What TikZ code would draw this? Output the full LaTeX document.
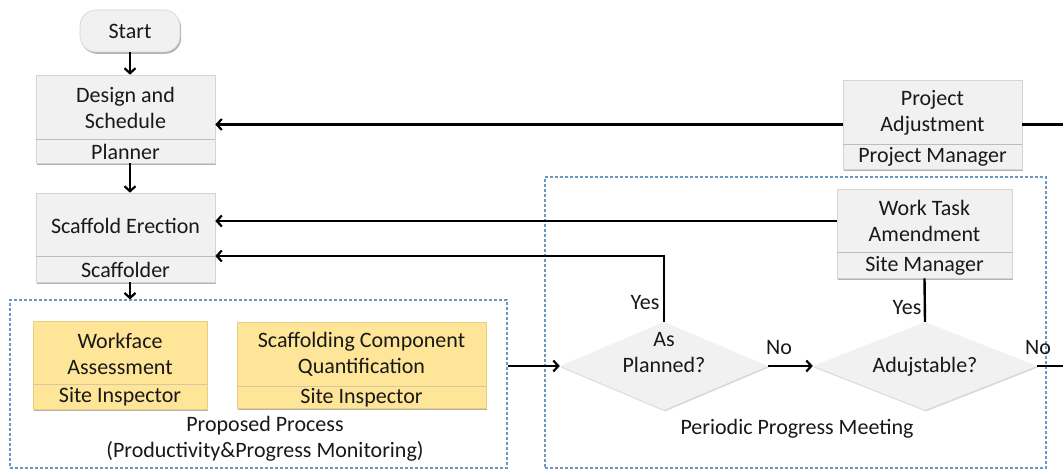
\documentclass[tikz,border=0pt]{standalone}
\usepackage{fontspec}
\setmainfont{Carlito}
\usetikzlibrary{shapes.geometric,arrows.meta,shadows,positioning}
\definecolor{boxfill}{HTML}{F1F1F1}
\definecolor{boxline}{HTML}{D4D4D4}
\definecolor{yfill}{HTML}{FFE597}
\definecolor{yline}{HTML}{E8CF80}
\definecolor{dashblue}{HTML}{6C97BE}
\definecolor{divgray}{HTML}{BDBDBD}
\tikzset{
  txt/.style={font=\fontsize{22}{26}\selectfont, text=black!90, align=center, inner sep=0},
  procbox/.style={draw=boxline, line width=0.6pt, fill=boxfill, inner sep=0,
     drop shadow={shadow xshift=1.2pt, shadow yshift=-1.8pt, fill=black, opacity=0.3}},
  ybox/.style={procbox, draw=yline, fill=yfill},
  startbox/.style={procbox, rounded corners=16pt},
  decbox/.style={diamond, fill=boxfill, inner sep=0, draw=none,
     drop shadow={shadow xshift=1pt, shadow yshift=-1.5pt, fill=black, opacity=0.15}},
  divider/.style={draw=divgray, line width=1pt},
  region/.style={draw=dashblue, dash pattern=on 3pt off 2pt, line width=1.1pt},
  conn/.style={draw=black, line width=2.4pt},
  arr/.style={conn, -{Straight Barb[length=5pt,width=11pt,line width=2.2pt]}},
}
\begin{document}
\begin{tikzpicture}[x=1pt,y=-1pt]
\useasboundingbox[fill=white] (0,0) rectangle (1063,470);

% dashed regions
\node[region, minimum width=497, minimum height=168] (pp) at (258.5,384) {};
\node[region, minimum width=501, minimum height=291] (ppm) at (795.5,322.5) {};
\node[txt] (pplabel) at (265,439) {Proposed Process\\(Productivity\&Progress Monitoring)};
\node[txt] (ppmlabel) at (797,429) {Periodic Progress Meeting};

% start
\node[startbox, minimum width=100, minimum height=42] (start) at (130,31) {};
\node[txt] (starttxt) at (130,31) {Start};

% Design and Schedule
\node[procbox, minimum width=179, minimum height=88] (ds) at (125.5,119) {};
\draw[divider] (ds.west |- 0,140) -- (ds.east |- 0,140);
\node[txt] (dstxt) at (125.5,108) {Design and\\Schedule};
\node[txt] (dsrole) at (125.5,152) {Planner};

% Scaffold Erection
\node[procbox, minimum width=179, minimum height=89] (se) at (125.5,237.5) {};
\draw[divider] (se.west |- 0,257) -- (se.east |- 0,257);
\node[txt] (setxt) at (125.5,226) {Scaffold Erection};
\node[txt] (serole) at (125.5,269.5) {Scaffolder};

% Workface Assessment
\node[ybox, minimum width=174, minimum height=88] (wa) at (120,365) {};
\draw[divider, draw=yline!80!black!60] (wa.west |- 0,384) -- (wa.east |- 0,384);
\node[txt] (watxt) at (120,354) {Workface\\Assessment};
\node[txt] (warole) at (120,397) {Site Inspector};

% Scaffolding Component Quantification
\node[ybox, minimum width=249, minimum height=86] (scq) at (361.5,365) {};
\draw[divider, draw=yline!80!black!60] (scq.west |- 0,386) -- (scq.east |- 0,386);
\node[txt] (scqtxt) at (361.5,354) {Scaffolding Component\\Quantification};
\node[txt] (scqrole) at (361.5,398) {Site Inspector};

% Project Adjustment
\node[procbox, minimum width=179, minimum height=89] (pa) at (932.5,124.5) {};
\draw[divider] (pa.west |- 0,145) -- (pa.east |- 0,145);
\node[txt] (patxt) at (932.5,113) {Project\\Adjustment};
\node[txt] (parole) at (932.5,157) {Project Manager};

% Work Task Amendment
\node[procbox, minimum width=175, minimum height=89] (wta) at (924.5,233.5) {};
\draw[divider] (wta.west |- 0,253) -- (wta.east |- 0,253);
\node[txt] (wtatxt) at (924.5,221) {Work Task\\Amendment};
\node[txt] (wtarole) at (924.5,266) {Site Manager};

% decisions
\node[decbox, minimum width=208, minimum height=88] (ap) at (664,366) {};
\node[txt] (aptxt) at (664,353) {As\\Planned?};
\node[decbox, minimum width=224, minimum height=88] (adj) at (925,366) {};
\node[txt] (adjtxt) at (925,367) {Adujstable?};

% free ends at the right edge
\coordinate (edgeA) at (1063,124.5);
\coordinate (edgeB) at (1063,366);

% connectors
\draw[arr] (start.south) -- (start.south |- ds.north);
\draw[arr] (start.south |- ds.south) -- (start.south |- se.north);
\draw[arr] (start.south |- se.south) -- (start.south |- pp.north);
\draw[arr] (pp.east |- ap.west) -- (ap.west);
\draw[arr] (ap.east) -- (adj.west);
\draw[conn] (adj.east) -- (edgeB);
\draw[arr] (ap.north) |- (se.east |- 0,256);
\draw[arr] (wta.west |- 0,221) -- (se.east |- 0,221);
\draw[conn] (adj.north) -- (wta.south);
\draw[arr] (pa.west) -- (ds.east |- pa.west);
\draw[conn] (pa.east) -- (edgeA);

% branch labels
\node[txt] (yes1) at (645,303) {Yes};
\node[txt] (no1) at (779,348) {No};
\node[txt] (yes2) at (907,308) {Yes};
\node[txt] (no2) at (1038,348) {No};
\end{tikzpicture}
\end{document}
